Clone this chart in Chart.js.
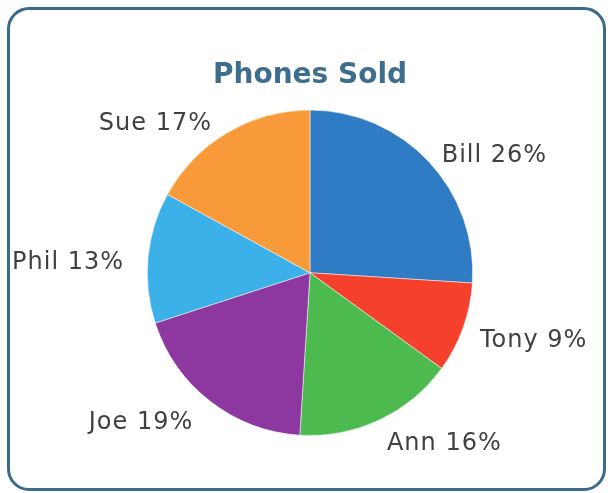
<!DOCTYPE html>
<html>
<head>
<meta charset="utf-8">
<script src="https://cdn.jsdelivr.net/npm/chart.js@4"></script>
<style>
    html, body { margin: 0; padding: 0; background: #ffffff; }
    #wrap { position: relative; width: 610px; height: 493px; }
    #frame {
        position: absolute; left: 7px; top: 7px; width: 593px; height: 478px;
        border: 3px solid #3b6a8b; border-radius: 22px; box-sizing: content-box;
    }
    #chart { position: absolute; left: 0; top: 0; }
</style>
</head>
<body>
<div id="wrap">
    <div id="frame"></div>
    <canvas id="chart" width="610" height="493"></canvas>
</div>
<script>
// Phones sold per person (percent)
const names = ['Bill', 'Tony', 'Ann', 'Joe', 'Phil', 'Sue'];
const sold = [26, 9, 16, 19, 13, 17];
const sliceColors = ['#2f7cc5', '#f5402c', '#4dba4f', '#8d37a1', '#3cb1e9', '#f89a39'];

// Draw "Name NN%" labels just outside each slice
const outsideLabels = {
    id: 'outsideLabels',
    afterDatasetsDraw(chart) {
        const ctx = chart.ctx;
        const meta = chart.getDatasetMeta(0);
        const total = sold.reduce((a, b) => a + b, 0);
        ctx.save();
        ctx.font = '24px "DejaVu Sans", sans-serif';
        ctx.letterSpacing = '1px';
        ctx.fillStyle = '#404040';
        ctx.textBaseline = 'middle';
        meta.data.forEach((arc, i) => {
            const mid = (arc.startAngle + arc.endAngle) / 2;
            const r = arc.outerRadius + 18;
            const left = Math.cos(mid) < 0;
            const x = arc.x + Math.cos(mid) * r - (left ? 6 : 0);
            const y = arc.y + Math.sin(mid) * r + 7;
            ctx.textAlign = left ? 'right' : 'left';
            const pct = Math.round(sold[i] / total * 100);
            ctx.fillText(names[i] + ' ' + pct + '%', x, y);
        });
        ctx.restore();
    }
};

new Chart(document.getElementById('chart'), {
    type: 'pie',
    data: {
        labels: names,
        datasets: [{
            data: sold,
            backgroundColor: sliceColors,
            borderColor: 'rgba(255,255,255,0.5)',
            borderWidth: 1
        }]
    },
    options: {
        responsive: false,
        animation: false,
        layout: { padding: { top: 40, bottom: 57, left: 10, right: 0 } },
        plugins: {
            legend: { display: false },
            tooltip: { enabled: false },
            title: {
                display: true,
                text: 'Phones Sold',
                color: '#3e6e8d',
                font: { family: '"DejaVu Sans", sans-serif', size: 28, weight: 'bold' },
                padding: { top: 19, bottom: 17 }
            }
        }
    },
    plugins: [outsideLabels]
});
</script>
</body>
</html>
